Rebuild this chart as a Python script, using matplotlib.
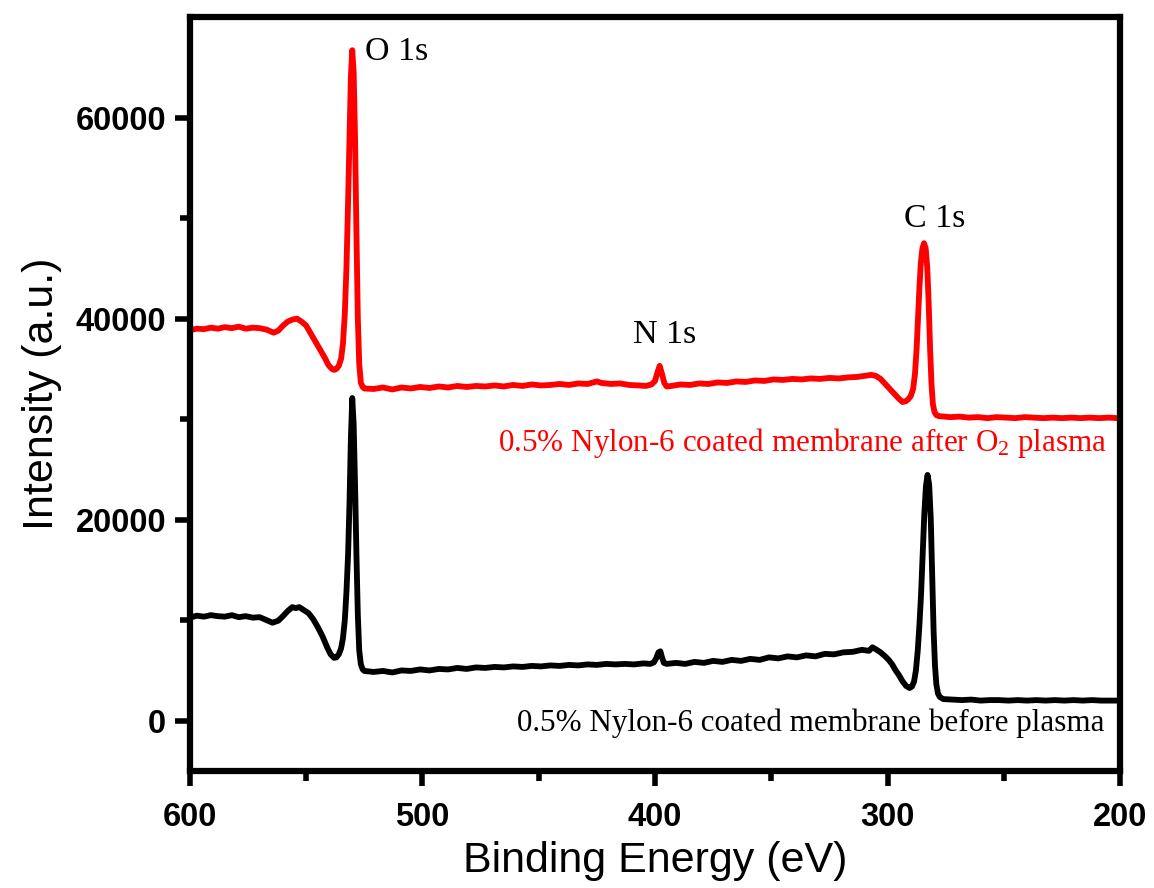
import numpy as np
import matplotlib
matplotlib.use("Agg")
import matplotlib.pyplot as plt
from matplotlib.ticker import FixedLocator

# ---------------- data ----------------
be_after = [600, 597, 594, 591, 588, 585, 582, 579, 576, 573, 570, 567, 564, 562, 560, 558, 556, 554, 552, 550,
            548, 546, 544, 542, 540.5, 539, 538, 537, 536, 535, 534.2, 533.4, 532.7, 532, 531.4, 530.8, 530.2,
            529.6, 529, 528.4, 527.8, 527.2, 526.5, 525.7, 525,
            521, 517, 513, 509, 505, 501, 497, 493, 489, 485, 481, 477, 473, 469, 465, 461, 457, 453, 449, 445,
            441, 437, 433, 429, 425, 423, 419, 415, 411, 407, 404, 401.5, 400, 399, 398, 397, 396, 395,
            393, 389, 385, 381, 377, 373, 369, 365, 361, 357, 353, 349, 345, 341, 337, 333, 329, 325, 321, 317,
            313, 310, 307, 305, 303, 301, 299, 297, 295, 293.5, 292, 291, 290, 289, 288.2, 287.5, 286.9, 286.3,
            285.7, 285, 284.3, 283.6, 282.9, 282.3, 281.7, 281.1, 280.5, 279.8, 279, 278,
            273, 269, 265, 261, 257, 253, 249, 245, 241, 237, 233, 229, 225, 221, 217, 213, 209, 205, 201, 200]
int_after = [38850, 39000, 38950, 39100, 39000, 39150, 39050, 39200, 39000, 39100, 39050, 38900, 38600, 38800,
             39300, 39700, 39900, 40000, 39700, 39300,
             38500, 37700, 36900, 36100, 35400, 35000, 34900, 35000, 35300, 36000, 37500, 40500, 45000, 51500,
             58000, 64000, 66700, 64500, 58000, 48500, 40000, 35500, 33600, 33200, 33050,
             33000, 33150, 32950, 33150, 33050, 33200, 33100, 33250, 33150, 33300, 33200, 33300, 33250, 33350,
             33250, 33400, 33300, 33450, 33350, 33400,
             33500, 33400, 33550, 33500, 33750, 33600, 33500, 33550, 33400, 33350, 33300, 33450, 33800, 34600,
             35300, 34500, 33600, 33250,
             33300, 33450, 33400, 33550, 33500, 33650, 33600, 33750, 33700, 33850, 33800, 33950, 33900, 34000,
             33950, 34050, 34000, 34100, 34050, 34150,
             34200, 34300, 34400, 34300, 34000, 33500, 33000, 32500, 32000, 31700, 31800, 32000, 32300, 33000,
             34500, 37000, 40000, 43000,
             45500, 47000, 47500, 47000, 45000, 41500, 37000, 33500, 31500, 30700, 30400, 30300,
             30200, 30250, 30150, 30200, 30100, 30200, 30150, 30100, 30200, 30150, 30100, 30150, 30100, 30150,
             30100, 30150, 30100, 30150, 30100, 30100]

be_before = [600, 597, 594, 591, 588, 585, 582, 579, 576, 573, 570, 567, 564.5, 562, 560, 558, 556, 554.5, 553,
             551, 549, 547, 545, 543, 541, 539.5, 538, 537, 536, 535, 534.2, 533.4, 532.7, 532, 531.4, 530.8,
             530.2, 529.6, 529, 528.4, 527.8, 527.2, 526.5, 525.7, 525,
             521, 517, 513, 509, 505, 501, 497, 493, 489, 485, 481, 477, 473, 469, 465, 461, 457, 453, 449, 445,
             441, 437, 433, 429, 425, 421, 417, 413, 409, 405, 402, 400.5, 399.5, 398.5, 397.7, 397, 396.2, 395,
             391, 387, 383, 379, 375, 371, 367, 363, 359, 355, 351, 347, 343, 339, 335, 331, 327, 323, 319, 315,
             311, 308, 306.5, 305, 303, 301, 299.5, 298, 296.5, 295, 293.5, 292, 290.5, 289.5, 288.6, 287.8,
             287, 286.3, 285.6, 284.9, 284.2, 283.5, 282.8, 282.1, 281.4, 280.8, 280.2, 279.6, 279, 278.3,
             277.5, 276,
             272, 268, 264, 260, 256, 252, 248, 244, 240, 236, 232, 228, 224, 220, 216, 212, 208, 204, 200]
int_before = [10250, 10450, 10350, 10500, 10400, 10350, 10500, 10300, 10400, 10250, 10300, 10000, 9750, 9950,
              10400, 10900, 11300, 11200, 11300, 11000, 10700, 10100, 9300, 8400, 7300, 6600, 6250, 6300,
              6600, 7200, 8200, 10000, 12800, 16500, 21500, 28000, 32100, 29500, 23500, 16500, 10500, 7000,
              5600, 5100, 4950,
              4850, 4950, 4800, 5000, 4950, 5100, 5000, 5150, 5100, 5250, 5150, 5300, 5250, 5350, 5300, 5400,
              5350, 5450, 5400, 5500,
              5450, 5550, 5500, 5600, 5550, 5650, 5600, 5650, 5600, 5700, 5650, 5800, 6200, 6800, 6900, 6300,
              5750, 5650,
              5750, 5650, 5850, 5750, 5950, 5850, 6050, 5950, 6150, 6050, 6300, 6200, 6400, 6300, 6500, 6400,
              6650, 6600, 6800, 6850,
              7050, 6950, 7300, 7100, 6800, 6400, 6050, 5600, 5000, 4500, 3900, 3450, 3250, 3400, 3900, 5000,
              7000, 9500, 12500, 16500, 20500, 23300, 24450, 23500, 20000, 14500, 9000, 5500, 3600, 2700,
              2350, 2150,
              2100, 2050, 2100, 2000, 2050, 2050, 2000, 2050, 2000, 2050, 2000, 2050, 2000, 2050, 2000, 2050,
              2000, 2000, 2000]

x_ticks = [600, 500, 400, 300, 200]
y_ticks = [0, 20000, 40000, 60000]
x_minor = [550, 450, 350, 250]
y_minor = [10000, 30000, 50000]

peak_labels = ["O 1s", "N 1s", "C 1s"]
peak_label_pos = [(524.7, 65700), (409.5, 37600), (293.0, 49100)]
label_after = "0.5% Nylon-6 coated membrane after O$\\mathregular{_2}$ plasma"
label_before = "0.5% Nylon-6 coated membrane before plasma"

# ---------------- figure ----------------
SANS = "Liberation Sans"
SERIF = "Liberation Serif"

fig = plt.figure(figsize=(11.54, 8.88), dpi=100)
ax = fig.add_axes([0.1646, 0.1318, 0.806, 0.849])

ax.plot(be_before, int_before, color="black", lw=4.2, solid_joinstyle="round", solid_capstyle="round")
ax.plot(be_after, int_after, color="#ff0000", lw=4.2, solid_joinstyle="round", solid_capstyle="round")

ax.set_xlim(600, 200)
ax.set_ylim(-5000, 70000)

ax.xaxis.set_major_locator(FixedLocator(x_ticks))
ax.yaxis.set_major_locator(FixedLocator(y_ticks))
ax.xaxis.set_minor_locator(FixedLocator(x_minor))
ax.yaxis.set_minor_locator(FixedLocator(y_minor))
ax.set_xticklabels([str(v) for v in x_ticks])
ax.set_yticklabels([str(v) for v in y_ticks])

for s in ax.spines.values():
    s.set_linewidth(4.5)

ax.tick_params(which="major", direction="out", length=11, width=4)
ax.tick_params(which="minor", direction="out", length=7, width=4)
ax.tick_params(axis="x", which="major", pad=11)
ax.tick_params(axis="y", which="major", pad=6)
ax.tick_params(top=False, right=False, which="both")

for lab in ax.get_xticklabels() + ax.get_yticklabels():
    lab.set_fontfamily(SANS)
    lab.set_fontweight("bold")
    lab.set_fontsize(23.5)

ax.set_xlabel("Binding Energy (eV)", fontfamily=SANS, fontsize=31, labelpad=6)
ax.set_ylabel("Intensity (a.u.)", fontfamily=SANS, fontsize=31, labelpad=10)

for txt, (xx, yy) in zip(peak_labels, peak_label_pos):
    ax.text(xx, yy, txt, fontfamily=SERIF, fontsize=24.5, color="black", ha="left", va="baseline")

ax.text(467.5, 26830, label_after, fontfamily=SERIF, fontsize=22.4, color="#ff0000", ha="left", va="baseline")
ax.text(459.5, -1030, label_before, fontfamily=SERIF, fontsize=22.4, color="black", ha="left", va="baseline")

fig.savefig("out.png", dpi=100)
